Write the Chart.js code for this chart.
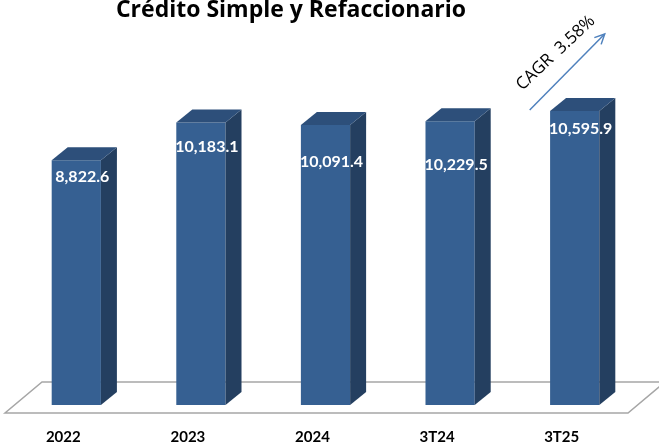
<!DOCTYPE html>
<html>
<head>
<meta charset="utf-8">
<script src="https://cdn.jsdelivr.net/npm/chart.js@4/dist/chart.umd.min.js"></script>
<style>
  html, body { margin: 0; padding: 0; background: #fff; }
  #wrap { width: 659px; height: 445px; }
</style>
</head>
<body>
<div id="wrap"><canvas id="chart-credito"></canvas></div>
<script>
let periodos = ["2022", "2023", "2024", "3T24", "3T25"];
let saldos = [8822.6, 10183.1, 10091.4, 10229.5, 10595.9];
let cagrTexto = "CAGR  3.58%";
let tituloTexto = "Crédito Simple y Refaccionario";

// ajustes manuales de las etiquetas (como en el original)
let labelDy = [17, 24, 37, 44, 18];

const DX = 16, DY = 13;

let plugin3d = {
    id: 'bar3d',
    beforeDatasetsDraw(chart) {
        let ctx = chart.ctx;
        let a = chart.chartArea;
        // piso
        ctx.save();
        ctx.beginPath();
        ctx.moveTo(5, a.bottom + 8);
        ctx.lineTo(628, a.bottom + 8);
        ctx.lineTo(665, a.bottom - 23);
        ctx.lineTo(42, a.bottom - 23);
        ctx.closePath();
        ctx.fillStyle = '#ffffff';
        ctx.fill();
        ctx.strokeStyle = '#a6a6a6';
        ctx.lineWidth = 1.5;
        ctx.stroke();
        ctx.restore();
    },
    afterDatasetsDraw(chart) {
        let ctx = chart.ctx;
        let meta = chart.getDatasetMeta(0);
        ctx.save();
        meta.data.forEach((bar, i) => {
            let l = bar.x - bar.width / 2, r = bar.x + bar.width / 2;
            // lado
            ctx.beginPath();
            ctx.moveTo(r, bar.y);
            ctx.lineTo(r + DX, bar.y - DY);
            ctx.lineTo(r + DX, bar.base - DY);
            ctx.lineTo(r, bar.base);
            ctx.closePath();
            ctx.fillStyle = '#243f60';
            ctx.fill();
            // tapa
            ctx.beginPath();
            ctx.moveTo(l, bar.y);
            ctx.lineTo(l + DX, bar.y - DY);
            ctx.lineTo(r + DX, bar.y - DY);
            ctx.lineTo(r, bar.y);
            ctx.closePath();
            ctx.fillStyle = '#2d4f7a';
            ctx.fill();
            // etiqueta
            ctx.fillStyle = '#ffffff';
            ctx.font = 'bold 16px Lato';
            ctx.textAlign = 'center';
            ctx.textBaseline = 'middle';
            let txt = saldos[i].toLocaleString('en-US', {minimumFractionDigits: 1, maximumFractionDigits: 1});
            ctx.fillText(txt, bar.x + 6, bar.y + labelDy[i]);
        });

        // titulo
        ctx.fillStyle = '#000000';
        ctx.font = 'bold 23px "Open Sans"';
        ctx.textAlign = 'center';
        ctx.textBaseline = 'alphabetic';
        ctx.fillText(tituloTexto, 291, 17);

        // flecha CAGR
        let last = meta.data[meta.data.length - 1];
        let x0 = last.x - 45, y0 = last.y - 1;
        let x1 = last.x + 30, y1 = last.y - 77;
        ctx.strokeStyle = '#4f81bd';
        ctx.lineWidth = 1.5;
        ctx.beginPath();
        ctx.moveTo(x0, y0);
        ctx.lineTo(x1, y1);
        ctx.stroke();
        let ang = Math.atan2(y1 - y0, x1 - x0);
        ctx.beginPath();
        ctx.moveTo(x1 - 11 * Math.cos(ang - 0.45), y1 - 11 * Math.sin(ang - 0.45));
        ctx.lineTo(x1, y1);
        ctx.lineTo(x1 - 11 * Math.cos(ang + 0.45), y1 - 11 * Math.sin(ang + 0.45));
        ctx.stroke();

        ctx.save();
        ctx.translate(last.x - 19, last.y - 58);
        ctx.rotate(-43 * Math.PI / 180);
        ctx.fillStyle = '#000000';
        ctx.font = '17px "Open Sans"';
        ctx.textAlign = 'center';
        ctx.textBaseline = 'middle';
        ctx.fillText(cagrTexto, 0, 0);
        ctx.restore();

        ctx.restore();
    }
};

let chartCredito = document.getElementById("chart-credito").getContext('2d');

let myChart = new Chart(chartCredito, {
    type: 'bar',
    data: {
        labels: periodos,
        datasets: [{
            data: saldos,
            backgroundColor: '#366092',
            borderWidth: 0,
            barPercentage: 0.395,
            categoryPercentage: 1
        }]
    },
    options: {
        responsive: true,
        maintainAspectRatio: false,
        animation: false,
        events: [],
        layout: {
            padding: { left: 14, right: 22, top: 72, bottom: -16 }
        },
        plugins: {
            legend: { display: false },
            tooltip: { enabled: false }
        },
        scales: {
            x: {
                grid: { display: false },
                border: { display: false },
                ticks: {
                    color: '#000000',
                    font: { family: 'Lato', weight: 'bold', size: 15 },
                    padding: 15,
                    labelOffset: -13,
                    maxRotation: 0
                }
            },
            y: {
                display: false,
                min: 0,
                max: 12000
            }
        }
    },
    plugins: [plugin3d]
});
</script>
</body>
</html>
